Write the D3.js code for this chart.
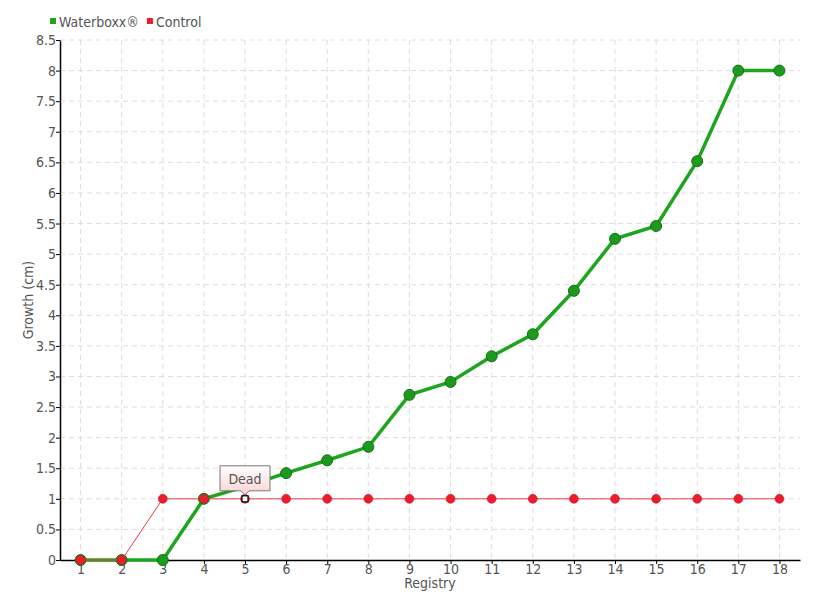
<!DOCTYPE html>
<html>
<head>
<meta charset="utf-8">
<script src="https://cdn.jsdelivr.net/npm/d3@7"></script>
<style>
  body { margin: 0; background: #fff; }
  svg text { font-family: "DejaVu Sans", sans-serif; font-stretch: condensed; fill: #555; }
</style>
</head>
<body>
<svg id="chart" width="820" height="600"></svg>
<script>
// chart data
var registry = [ 1, 2, 3, 4, 5, 6, 7, 8, 9, 10, 11, 12, 13, 14, 15, 16, 17, 18 ];
var waterboxx = [ 0, 0, 0, 1, 1.2, 1.42, 1.63, 1.85, 2.7, 2.91, 3.33, 3.69, 4.4, 5.25, 5.46, 6.52, 8, 8 ];
var control = [ 0, 0, 1, 1, 1, 1, 1, 1, 1, 1, 1, 1, 1, 1, 1, 1, 1, 1 ];
var yTicks = [ 0, 0.5, 1, 1.5, 2, 2.5, 3, 3.5, 4, 4.5, 5, 5.5, 6, 6.5, 7, 7.5, 8, 8.5 ];
var deadIndex = 4;
var deadLabel = 'Dead';

var svg = d3.select( '#chart' );
var plotL = 60, plotR = 800, plotT = 40, plotB = 560;

var x = d3.scalePoint()
    .domain( registry )
    .range( [ plotL, plotR ] )
    .padding( 0.5 );

var y = d3.scaleLinear()
    .domain( [ 0, 8.5 ] )
    .range( [ plotB, plotT ] );

// grid
var grid = svg.append( 'g' )
    .style( 'stroke', '#ddd' )
    .style( 'stroke-dasharray', '5,4' );

grid.selectAll( 'line.h' )
    .data( yTicks.slice( 1 ) )
  .enter().append( 'line' )
    .attr( 'x1', plotL ).attr( 'x2', plotR )
    .attr( 'y1', function( d ) { return y( d ); } )
    .attr( 'y2', function( d ) { return y( d ); } );

grid.selectAll( 'line.v' )
    .data( registry )
  .enter().append( 'line' )
    .attr( 'x1', function( d ) { return x( d ); } )
    .attr( 'x2', function( d ) { return x( d ); } )
    .attr( 'y1', plotT ).attr( 'y2', plotB );

// axes
var xAxis = svg.append( 'g' )
    .attr( 'transform', 'translate( 0,' + plotB + ' )' )
    .call( d3.axisBottom( x ).tickSize( 4 ).tickSizeOuter( 0 ) );

var yAxis = svg.append( 'g' )
    .attr( 'transform', 'translate( ' + plotL + ', 0 )' )
    .call( d3.axisLeft( y ).tickValues( yTicks ).tickFormat( d3.format( '~g' ) ).tickSize( 4 ).tickSizeOuter( 0 ) );

[ xAxis, yAxis ].forEach( function( a ) {
    a.select( '.domain' ).style( 'stroke', '#000' ).style( 'stroke-width', 1.5 );
    a.selectAll( '.tick line' ).style( 'stroke', '#000' );
    a.selectAll( 'text' ).style( 'font-size', '14px' ).style( 'fill', '#555' )
        .style( 'font-family', '"DejaVu Sans", sans-serif' ).style( 'font-stretch', 'condensed' );
});
xAxis.selectAll( 'text' ).attr( 'dy', '0.75em' ).attr( 'y', 3 );
yAxis.selectAll( 'text' ).attr( 'x', -4 );

svg.append( 'text' )
    .attr( 'x', ( plotL + plotR ) / 2 ).attr( 'y', 588 )
    .attr( 'text-anchor', 'middle' )
    .style( 'font-size', '14px' )
    .text( 'Registry' );

svg.append( 'text' )
    .attr( 'transform', 'translate( 33, 300 ) rotate( -90 )' )
    .attr( 'text-anchor', 'middle' )
    .style( 'font-size', '14px' )
    .text( 'Growth (cm)' );

// series
var line = d3.line()
    .x( function( d, i ) { return x( registry[ i ] ); } )
    .y( function( d ) { return y( d ); } );

svg.append( 'path' )
    .datum( waterboxx )
    .attr( 'd', line )
    .style( 'fill', 'none' )
    .style( 'stroke', '#1ea51e' )
    .style( 'stroke-width', 3.5 );

svg.selectAll( 'circle.wb' )
    .data( waterboxx )
  .enter().append( 'circle' )
    .attr( 'class', 'wb' )
    .attr( 'cx', function( d, i ) { return x( registry[ i ] ); } )
    .attr( 'cy', function( d ) { return y( d ); } )
    .attr( 'r', 5.5 )
    .style( 'fill', '#1d9a1d' )
    .style( 'stroke', '#157015' )
    .style( 'stroke-width', 1 );

svg.append( 'path' )
    .datum( control )
    .attr( 'd', line )
    .style( 'fill', 'none' )
    .style( 'stroke', '#f2384a' )
    .style( 'stroke-width', 1 );

svg.selectAll( 'circle.ct' )
    .data( control )
  .enter().append( 'circle' )
    .attr( 'class', 'ct' )
    .attr( 'cx', function( d, i ) { return x( registry[ i ] ); } )
    .attr( 'cy', function( d ) { return y( d ); } )
    .attr( 'r', 4.5 )
    .style( 'fill', '#ee1b2e' )
    .style( 'stroke', '#c01020' )
    .style( 'stroke-width', 0.5 );

// dead marker + callout
var dx = x( registry[ deadIndex ] ), dy = y( control[ deadIndex ] );
svg.append( 'rect' )
    .attr( 'x', dx - 3 ).attr( 'y', dy - 3 )
    .attr( 'width', 6 ).attr( 'height', 6 )
    .style( 'fill', '#fff' ).style( 'stroke', '#000' ).style( 'stroke-width', 1.2 );

var defs = svg.append( 'defs' );
var grad = defs.append( 'linearGradient' )
    .attr( 'id', 'tipGrad' )
    .attr( 'x1', 0 ).attr( 'y1', 0 ).attr( 'x2', 0 ).attr( 'y2', 1 );
grad.append( 'stop' ).attr( 'offset', '0%' ).attr( 'stop-color', '#ffffff' );
grad.append( 'stop' ).attr( 'offset', '100%' ).attr( 'stop-color', '#fcd2d2' );

var tw = 50, th = 25, tb = dy - 8;
var tip = 'M' + ( dx - tw / 2 ) + ',' + ( tb - th ) +
    ' h' + tw + ' v' + th + ' h' + -( tw / 2 - 4 ) + ' l-4,4 l-4,-4 h' + -( tw / 2 - 4 ) + ' Z';
svg.append( 'path' )
    .attr( 'd', tip )
    .style( 'fill', 'url(#tipGrad)' )
    .style( 'stroke', '#777' )
    .style( 'stroke-width', 1 );
svg.append( 'text' )
    .attr( 'x', dx ).attr( 'y', tb - 7 )
    .attr( 'text-anchor', 'middle' )
    .style( 'font-size', '14px' )
    .text( deadLabel );

// legend
var legend = [ [ 'Waterboxx®', '#1ea51e' ], [ 'Control', '#ee1b2e' ] ];
var lx = 50;
legend.forEach( function( l ) {
    svg.append( 'rect' )
        .attr( 'x', lx ).attr( 'y', 18 ).attr( 'width', 6 ).attr( 'height', 6 )
        .style( 'fill', l[ 1 ] );
    var t = svg.append( 'text' )
        .attr( 'x', lx + 9 ).attr( 'y', 27 )
        .style( 'font-size', '14px' )
        .text( l[ 0 ] );
    lx += t.node().getComputedTextLength() + 17;
});
</script>
</body>
</html>
